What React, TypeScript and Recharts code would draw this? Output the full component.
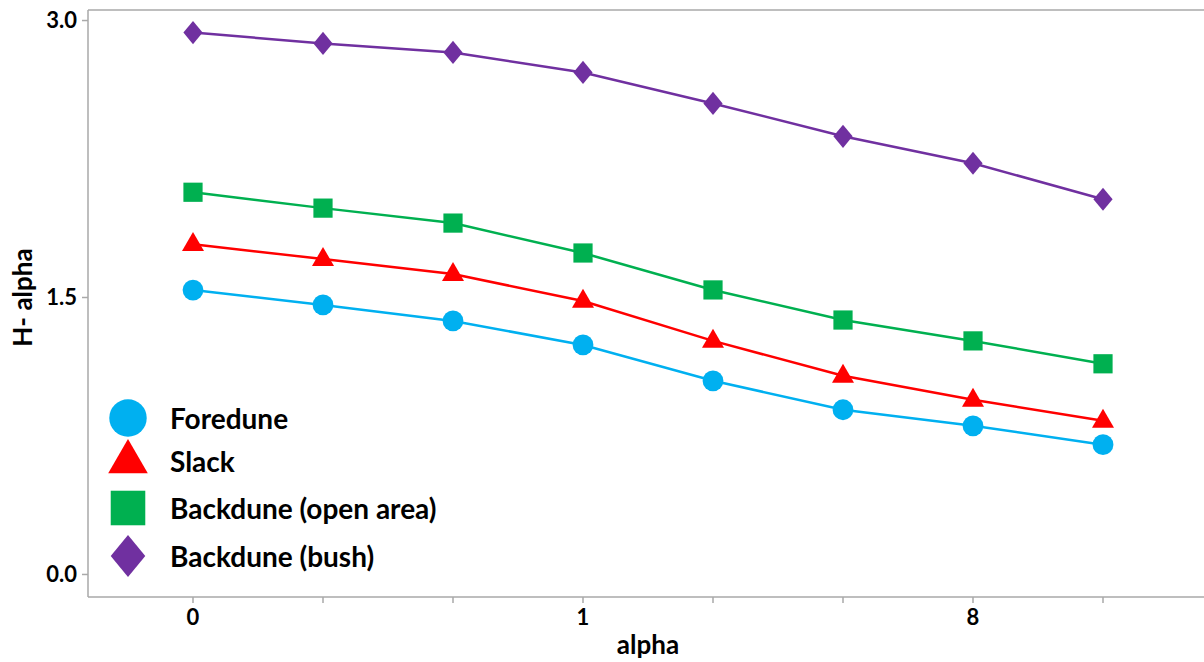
import React from 'react';
import { LineChart, Line, XAxis, YAxis, ReferenceLine } from 'recharts';

// alpha positions along the x axis; only a few are labelled
const xLabels = ['0', '', '', '1', '', '', '8', ''];
const yTicks = [0, 1.5, 3];

const foredune = [1.54, 1.46, 1.373, 1.243, 1.049, 0.892, 0.805, 0.703];
const slack = [1.789, 1.708, 1.627, 1.481, 1.265, 1.076, 0.946, 0.832];
const backduneOpen = [2.07, 1.984, 1.903, 1.741, 1.541, 1.378, 1.265, 1.141];
const backduneBush = [2.935, 2.876, 2.827, 2.719, 2.551, 2.373, 2.227, 2.032];

const data = xLabels.map((label, i) => ({
  i,
  label,
  foredune: foredune[i],
  slack: slack[i],
  backduneOpen: backduneOpen[i],
  backduneBush: backduneBush[i],
}));

const FONT = 'Lato, "Open Sans", sans-serif';
const AXIS_GREY = '#a9a9a9';

type Shape = 'circle' | 'triangle' | 'square' | 'diamond';

const seriesDefs: { key: string; name: string; color: string; shape: Shape }[] = [
  { key: 'foredune', name: 'Foredune', color: '#00b0f0', shape: 'circle' },
  { key: 'slack', name: 'Slack', color: '#ff0000', shape: 'triangle' },
  { key: 'backduneOpen', name: 'Backdune (open area)', color: '#00b050', shape: 'square' },
  { key: 'backduneBush', name: 'Backdune (bush)', color: '#7030a0', shape: 'diamond' },
];

// legend row heights, top to bottom
const legendRows = [42, 44, 50, 46];

function Marker({ cx, cy, shape, color, s }: { cx: number; cy: number; shape: Shape; color: string; s: number }) {
  if (shape === 'circle') return <circle cx={cx} cy={cy} r={s * 0.52} fill={color} />;
  if (shape === 'triangle') {
    const h = s * 0.95;
    return (
      <polygon
        points={`${cx},${cy - h * 0.64} ${cx + s * 0.55},${cy + h * 0.36} ${cx - s * 0.55},${cy + h * 0.36}`}
        fill={color}
      />
    );
  }
  if (shape === 'square') {
    const h = s * 0.48;
    return <rect x={cx - h} y={cy - h} width={h * 2} height={h * 2} fill={color} />;
  }
  const w = s * 0.48;
  const h = s * 0.58;
  return <polygon points={`${cx},${cy - h} ${cx + w},${cy} ${cx},${cy + h} ${cx - w},${cy}`} fill={color} />;
}

const makeDot = (shape: Shape, color: string) => (props: any) => {
  const { cx, cy, index } = props;
  if (cx == null || cy == null) return <g key={index} />;
  return (
    <g key={`${shape}-${index}`}>
      <Marker cx={cx} cy={cy} shape={shape} color={color} s={20} />
    </g>
  );
};

const LegendBox = () => (
  <div
    style={{
      position: 'absolute',
      left: 106,
      top: 397,
      fontFamily: FONT,
      fontWeight: 700,
      fontSize: 28,
      color: '#000',
      lineHeight: 1,
    }}
  >
    {seriesDefs.map((d, i) => (
      <div key={d.key} style={{ display: 'flex', alignItems: 'center', height: legendRows[i] }}>
        <svg width={44} height={44} style={{ marginRight: 20 }}>
          <Marker cx={22} cy={22} shape={d.shape} color={d.color} s={36} />
        </svg>
        <span>{d.name}</span>
      </div>
    ))}
  </div>
);

const YTitle = (props: any) => {
  const { viewBox } = props;
  const x = viewBox.x + 22;
  const y = viewBox.y + viewBox.height / 2 - 6;
  return (
    <text
      x={x}
      y={y}
      transform={`rotate(-90, ${x}, ${y})`}
      textAnchor="middle"
      dominantBaseline="central"
      fontFamily={FONT}
      fontWeight={700}
      fontSize={26}
      fill="#000"
    >
      H- alpha
    </text>
  );
};

export default function App() {
  return (
    <div style={{ position: 'absolute', left: 0, top: 0, width: 1204, height: 662, overflow: 'hidden', background: '#fff' }}>
      <LineChart width={1220} height={662} data={data} margin={{ top: 10, right: 12, bottom: 0, left: 0 }}>
        <XAxis
          dataKey="i"
          type="category"
          padding={{ left: 105, right: 105 }}
          tickFormatter={(v: number) => xLabels[v]}
          interval={0}
          height={65}
          stroke={AXIS_GREY}
          strokeWidth={1.5}
          tickSize={6}
          tickMargin={6}
          tick={{ fill: '#000', fontFamily: FONT, fontWeight: 700, fontSize: 22 }}
          label={{
            value: 'alpha',
            position: 'insideBottom',
            offset: 8,
            fill: '#000',
            fontFamily: FONT,
            fontWeight: 700,
            fontSize: 26,
          }}
        />
        <YAxis
          domain={[-0.122, 3.057]}
          ticks={yTicks}
          tickFormatter={(v: number) => v.toFixed(1)}
          width={88}
          stroke={AXIS_GREY}
          strokeWidth={1.5}
          tickSize={6}
          tickMargin={5}
          tick={{ fill: '#000', fontFamily: FONT, fontWeight: 700, fontSize: 22 }}
          label={<YTitle />}
        />
        <ReferenceLine y={3.057} stroke={AXIS_GREY} strokeWidth={1.5} ifOverflow="extendDomain" />
        {seriesDefs.map((d) => (
          <Line
            key={d.key}
            dataKey={d.key}
            name={d.name}
            stroke={d.color}
            strokeWidth={2.5}
            dot={makeDot(d.shape, d.color)}
            activeDot={false}
            isAnimationActive={false}
          />
        ))}
      </LineChart>
      <LegendBox />
    </div>
  );
}
